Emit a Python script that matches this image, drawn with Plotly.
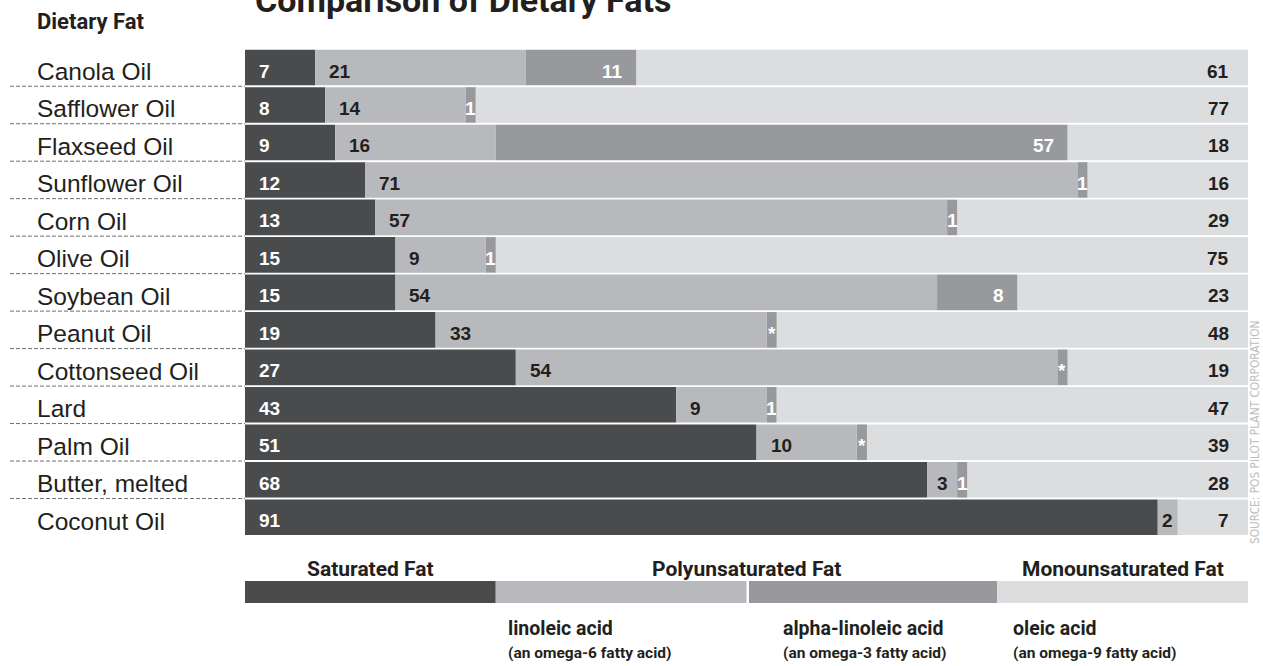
import plotly.graph_objects as go

# Fatty-acid composition of common dietary fats (percent of total fat)
oils = ["Canola Oil", "Safflower Oil", "Flaxseed Oil", "Sunflower Oil", "Corn Oil",
        "Olive Oil", "Soybean Oil", "Peanut Oil", "Cottonseed Oil", "Lard",
        "Palm Oil", "Butter, melted", "Coconut Oil"]
saturated = [7, 8, 9, 12, 13, 15, 15, 19, 27, 43, 51, 68, 91]
linoleic = [21, 14, 16, 71, 57, 9, 54, 33, 54, 9, 10, 3, 2]
alpha_linolenic = [11, 1, 57, 1, 1, 1, 8, "*", "*", 1, "*", 1, 0]   # "*" = trace amount
oleic = [61, 77, 18, 16, 29, 75, 23, 48, 19, 47, 39, 28, 7]

key_names = ["Saturated Fat", "linoleic acid", "alpha-linoleic acid", "oleic acid"]
key_notes = ["", "(an omega-6 fatty acid)", "(an omega-3 fatty acid)", "(an omega-9 fatty acid)"]
group_names = ["Saturated Fat", "Polyunsaturated Fat", "Monounsaturated Fat"]
group_spans = [(0, 1), (1, 3), (3, 4)]

COLORS = ["#4a4b4d", "#b8b9bc", "#98999c", "#dcdddf"]
LABEL_COLORS = ["#ffffff", "#231f20", "#ffffff", "#231f20"]
INK = "#231f20"
TRACE_WIDTH = 1.0

W, H = 1263, 666
L, R, T, B = 245, 15, 48, 130
PW, PH = W - L - R, H - T - B

SANS = "Liberation Sans, Arial, Helvetica, sans-serif"
HEAD = "Roboto, Liberation Sans, Arial, sans-serif"
SMALL = "DejaVu Sans Condensed, Roboto, sans-serif"


def px_x(px):
    return (px - L) / PW


def px_y(py):
    return 1 - (py - T) / PH


alpha_stack = [0 if v == "*" else v for v in alpha_linolenic]
alpha_draw = [TRACE_WIDTH if v == "*" else v for v in alpha_linolenic]

base_sat = [0] * len(oils)
base_lin = list(saturated)
base_alpha = [s + l for s, l in zip(saturated, linoleic)]
base_oleic = [s + l + a for s, l, a in zip(saturated, linoleic, alpha_stack)]

segments = [
    (saturated, saturated, base_sat),
    (linoleic, linoleic, base_lin),
    (alpha_draw, alpha_linolenic, base_alpha),
    (oleic, oleic, base_oleic),
]

fig = go.Figure()
# draw order: alpha last so the thin trace marks sit on top
for k in [0, 1, 3, 2]:
    widths, _, bases = segments[k]
    fig.add_trace(go.Bar(
        y=oils, x=widths, base=bases, orientation="h",
        marker=dict(color=COLORS[k], line=dict(width=0)),
        name=key_names[k], hoverinfo="skip",
    ))

annotations = []
label_font = dict(family=SANS, size=19)
for k, (widths, labels, bases) in enumerate(segments):
    for i, oil in enumerate(oils):
        w, lab, b0 = widths[i], labels[i], bases[i]
        if w == 0:
            continue
        narrow = w < 4
        if narrow:
            x, anchor, shift = b0 + w / 2, "center", 0
        elif k in (0, 1):
            x, anchor, shift = b0, "left", 12
        elif k == 2:
            x, anchor, shift = b0 + w, "right", -11
        else:
            x, anchor, shift = b0 + w, "right", -17
        annotations.append(dict(
            x=x, y=oil, xref="x", yref="y", text=f"<b>{lab}</b>", showarrow=False,
            xanchor=anchor, yanchor="middle", xshift=shift, yshift=-3.5,
            font=dict(label_font, color=LABEL_COLORS[k]),
        ))

# category names down the left side
for i, oil in enumerate(oils):
    annotations.append(dict(
        x=px_x(35), y=oil, xref="paper", yref="y", text=oil, showarrow=False,
        xanchor="left", yanchor="middle", yshift=-4,
        font=dict(family=SANS, size=24.5, color=INK),
    ))

# headings
annotations.append(dict(
    x=px_x(35), y=px_y(21), xref="paper", yref="paper", text="<b>Dietary Fat</b>",
    showarrow=False, xanchor="left", yanchor="middle",
    font=dict(family=HEAD, size=22, color=INK),
))
annotations.append(dict(
    x=px_x(253), y=px_y(0.5), xref="paper", yref="paper",
    text="<b>Comparison of Dietary Fats</b>", showarrow=False,
    xanchor="left", yanchor="middle",
    font=dict(family=HEAD, size=34, color=INK),
))
annotations.append(dict(
    x=px_x(1255), y=px_y(433), xref="paper", yref="paper",
    text="SOURCE: POS PILOT PLANT CORPORATION", showarrow=False, textangle=-90,
    xanchor="center", yanchor="middle",
    font=dict(family=SMALL, size=11.8, color="#bdbebf"),
))

# colour key beneath the chart
SLOT = 100 / len(key_names)
shapes = []
for k in range(len(key_names)):
    x0 = k * SLOT + (0.25 if k == 2 else 0)
    x1 = (k + 1) * SLOT
    shapes.append(dict(
        type="rect", xref="x", yref="paper", x0=x0, x1=x1,
        y0=px_y(603), y1=px_y(581), fillcolor=COLORS[k], line=dict(width=0), layer="above",
    ))
for name, (a, b) in zip(group_names, group_spans):
    annotations.append(dict(
        x=(a + b) / 2 * SLOT, y=px_y(569), xref="x", yref="paper",
        text=f"<b>{name}</b>", showarrow=False, xanchor="center", yanchor="middle",
        font=dict(family=HEAD, size=21, color=INK),
    ))
note_left = [0, 506, 781, 1011]
for k in range(1, len(key_names)):
    annotations.append(dict(
        x=px_x(note_left[k]), y=px_y(628), xref="paper", yref="paper",
        text=f"<b>{key_names[k]}</b>", showarrow=False, xanchor="left", yanchor="middle",
        font=dict(family=HEAD, size=19.5, color=INK),
    ))
    annotations.append(dict(
        x=px_x(note_left[k]), y=px_y(653), xref="paper", yref="paper",
        text=f"<b>{key_notes[k]}</b>", showarrow=False, xanchor="left", yanchor="middle",
        font=dict(family=HEAD, size=15.5, color=INK),
    ))

# dotted rules between the category names
for i in range(len(oils) - 1):
    shapes.append(dict(
        type="line", xref="paper", yref="y", x0=px_x(10), x1=0,
        y0=i + 0.5, y1=i + 0.5, line=dict(color="#6d6e70", width=1, dash="4px,2px"),
    ))

fig.update_layout(
    width=W, height=H,
    margin=dict(l=L, r=R, t=T, b=B, pad=0),
    barmode="overlay", bargap=0.05,
    plot_bgcolor="white", paper_bgcolor="white",
    showlegend=False,
    xaxis=dict(range=[0, 100], visible=False, fixedrange=True),
    yaxis=dict(categoryorder="array", categoryarray=oils, autorange="reversed",
               visible=False, fixedrange=True),
    annotations=annotations, shapes=shapes,
)

fig.write_html("out.html", config={"displayModeBar": False})
